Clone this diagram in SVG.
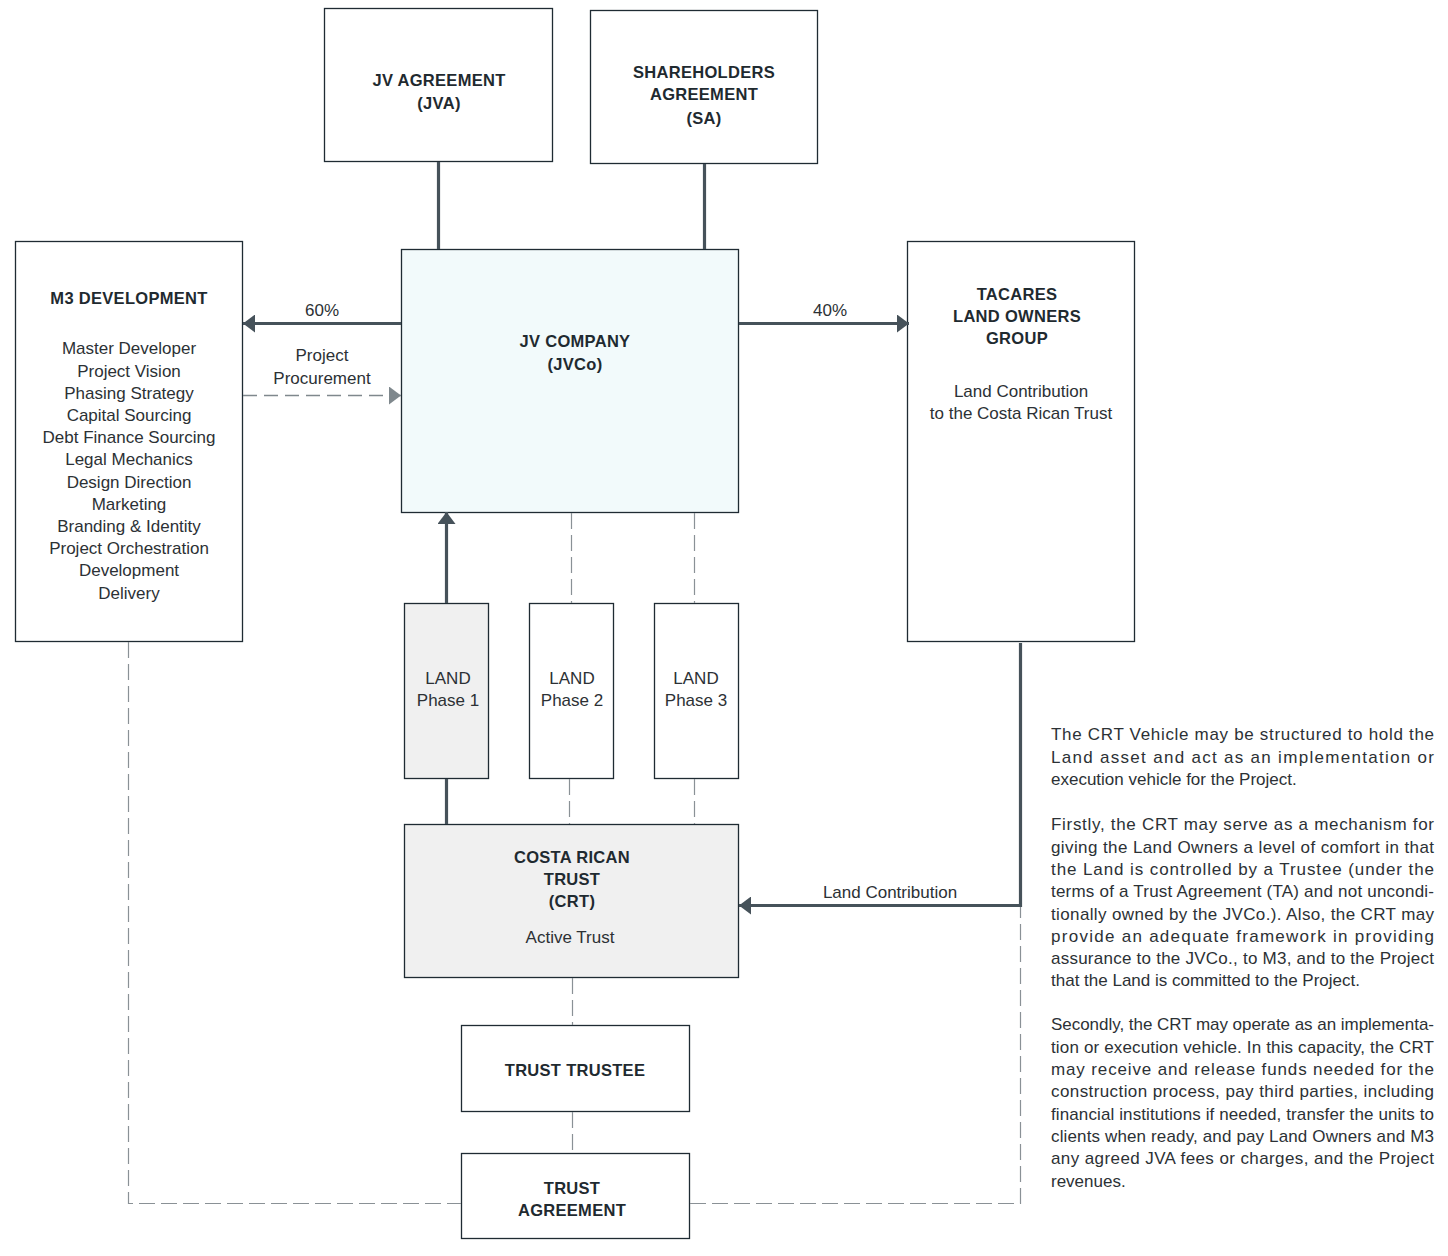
<svg xmlns="http://www.w3.org/2000/svg" width="1448" height="1256" viewBox="0 0 1448 1256">
<defs>
<style>
.box{fill:#ffffff;stroke:#1f2b33;stroke-width:1.3}
.grey{fill:#f0f0f0}
.cyan{fill:#f2fafb}
.t{font-family:"Liberation Sans",Arial,sans-serif;font-size:17px;fill:#2c3135;text-anchor:middle}
.b{font-family:"Liberation Sans",Arial,sans-serif;font-size:16.5px;font-weight:bold;fill:#1f2a30;text-anchor:middle;letter-spacing:0.3px}
.p{font-family:"Liberation Sans",Arial,sans-serif;font-size:17px;fill:#2c3135}
.thick{fill:none;stroke:#46525a;stroke-width:3.2}
.dash{fill:none;stroke:#8a9196;stroke-width:1.2;stroke-dasharray:16 6}
.dashArrow{fill:none;stroke:#7f888d;stroke-width:1.3;stroke-dasharray:14 7}
</style>
<marker id="ah" markerUnits="userSpaceOnUse" markerWidth="14" markerHeight="18" refX="12" refY="9" orient="auto">
<path d="M0,0 L12,9 L0,18 Z" fill="#46525a"/>
</marker>
<marker id="ahl" markerUnits="userSpaceOnUse" markerWidth="14" markerHeight="18" refX="12" refY="9" orient="auto">
<path d="M0,0 L12,9 L0,18 Z" fill="#7f888d"/>
</marker>
</defs>
<rect width="1448" height="1256" fill="#ffffff"/>

<g id="jva">
<rect class="box" x="324.5" y="8.5" width="228" height="153"/>
<text class="b" x="439" y="86">JV AGREEMENT</text>
<text class="b" x="439" y="109">(JVA)</text>
</g>
<g id="sa">
<rect class="box" x="590.5" y="10.5" width="227" height="153"/>
<text class="b" x="704" y="78">SHAREHOLDERS</text>
<text class="b" x="704" y="100">AGREEMENT</text>
<text class="b" x="704" y="124">(SA)</text>
</g>
<g id="jvco">
<rect class="box cyan" x="401.5" y="249.5" width="337" height="263"/>
<text class="b" x="575" y="347">JV COMPANY</text>
<text class="b" x="575" y="370">(JVCo)</text>
</g>
<g id="m3">
<rect class="box" x="15.5" y="241.5" width="227" height="400"/>
<text class="b" x="129" y="304">M3 DEVELOPMENT</text>
<text class="t" x="129" y="354.3">Master Developer<tspan x="129" dy="22.2">Project Vision</tspan><tspan x="129" dy="22.2">Phasing Strategy</tspan><tspan x="129" dy="22.2">Capital Sourcing</tspan><tspan x="129" dy="22.2">Debt Finance Sourcing</tspan><tspan x="129" dy="22.2">Legal Mechanics</tspan><tspan x="129" dy="22.2">Design Direction</tspan><tspan x="129" dy="22.2">Marketing</tspan><tspan x="129" dy="22.2">Branding &amp; Identity</tspan><tspan x="129" dy="22.2">Project Orchestration</tspan><tspan x="129" dy="22.2">Development</tspan><tspan x="129" dy="22.2">Delivery</tspan></text>
</g>
<g id="tacares">
<rect class="box" x="907.5" y="241.5" width="227" height="400"/>
<text class="b" x="1017" y="300">TACARES</text>
<text class="b" x="1017" y="322">LAND OWNERS</text>
<text class="b" x="1017" y="344">GROUP</text>
<text class="t" x="1021" y="397">Land Contribution</text>
<text class="t" x="1021" y="419">to the Costa Rican Trust</text>
</g>
<g id="land1">
<rect class="box grey" x="404.5" y="603.5" width="84" height="175"/>
<text class="t" x="448" y="684">LAND</text>
<text class="t" x="448" y="706">Phase 1</text>
</g>
<g id="land2">
<rect class="box" x="529.5" y="603.5" width="84" height="175"/>
<text class="t" x="572" y="684">LAND</text>
<text class="t" x="572" y="706">Phase 2</text>
</g>
<g id="land3">
<rect class="box" x="654.5" y="603.5" width="84" height="175"/>
<text class="t" x="696" y="684">LAND</text>
<text class="t" x="696" y="706">Phase 3</text>
</g>
<g id="crt">
<rect class="box grey" x="404.5" y="824.5" width="334" height="153"/>
<text class="b" x="572" y="863">COSTA RICAN</text>
<text class="b" x="572" y="885">TRUST</text>
<text class="b" x="572" y="907">(CRT)</text>
<text class="t" x="570" y="943">Active Trust</text>
</g>
<g id="trustee">
<rect class="box" x="461.5" y="1025.5" width="228" height="86"/>
<text class="b" x="575" y="1076">TRUST TRUSTEE</text>
</g>
<g id="agreement">
<rect class="box" x="461.5" y="1153.5" width="228" height="85"/>
<text class="b" x="572" y="1194">TRUST</text>
<text class="b" x="572" y="1216">AGREEMENT</text>
</g>

<g id="connectors">
<line class="thick" x1="438.5" y1="162" x2="438.5" y2="249"/>
<line class="thick" x1="704.5" y1="164" x2="704.5" y2="249"/>
<line class="thick" x1="401" y1="323.5" x2="243" y2="323.5" marker-end="url(#ah)"/>
<line class="thick" x1="739" y1="323.5" x2="909" y2="323.5" marker-end="url(#ah)"/>
<line class="dashArrow" x1="243" y1="395.5" x2="401" y2="395.5" marker-end="url(#ahl)"/>
<line class="thick" x1="446.5" y1="603" x2="446.5" y2="512" marker-end="url(#ah)"/>
<line class="thick" x1="446.5" y1="779" x2="446.5" y2="824"/>
<line class="dash" x1="571.5" y1="513" x2="571.5" y2="603"/>
<line class="dash" x1="569.5" y1="779" x2="569.5" y2="824"/>
<line class="dash" x1="694.5" y1="513" x2="694.5" y2="603"/>
<line class="dash" x1="694.5" y1="779" x2="694.5" y2="824"/>
<line class="dash" x1="572.5" y1="978" x2="572.5" y2="1025"/>
<line class="dash" x1="572.5" y1="1112" x2="572.5" y2="1153"/>
<polyline class="thick" points="1020.5,643 1020.5,905.5 739,905.5" marker-end="url(#ah)"/>
<polyline class="dash" points="128.5,642 128.5,1203.5 461,1203.5"/>
<polyline class="dash" points="690,1203.5 1020.5,1203.5 1020.5,907"/>
<text class="t" x="322" y="316">60%</text>
<text class="t" x="830" y="316">40%</text>
<text class="t" x="322" y="361">Project</text>
<text class="t" x="322" y="384">Procurement</text>
<text class="t" x="890" y="898">Land Contribution</text>
</g>

<g id="notes">
<text class="p" x="1051" y="740" textLength="383" lengthAdjust="spacing">The CRT Vehicle may be structured to hold the</text>
<text class="p" x="1051" y="762.5" textLength="383" lengthAdjust="spacing">Land asset and act as an implementation or</text>
<text class="p" x="1051" y="785">execution vehicle for the Project.</text>
<text class="p" x="1051" y="830" textLength="383" lengthAdjust="spacing">Firstly, the CRT may serve as a mechanism for</text>
<text class="p" x="1051" y="852.5" textLength="383" lengthAdjust="spacing">giving the Land Owners a level of comfort in that</text>
<text class="p" x="1051" y="875" textLength="383" lengthAdjust="spacing">the Land is controlled by a Trustee (under the</text>
<text class="p" x="1051" y="897" textLength="383" lengthAdjust="spacing">terms of a Trust Agreement (TA) and not uncondi-</text>
<text class="p" x="1051" y="919.5" textLength="383" lengthAdjust="spacing">tionally owned by the JVCo.).  Also, the CRT may</text>
<text class="p" x="1051" y="941.5" textLength="383" lengthAdjust="spacing">provide an adequate framework in providing</text>
<text class="p" x="1051" y="964" textLength="383" lengthAdjust="spacing">assurance to the JVCo., to M3, and to the Project</text>
<text class="p" x="1051" y="986">that the Land is committed to the Project.</text>
<text class="p" x="1051" y="1030" textLength="383" lengthAdjust="spacing">Secondly, the CRT may operate as an implementa-</text>
<text class="p" x="1051" y="1052.5" textLength="383" lengthAdjust="spacing">tion or execution vehicle.  In this capacity, the CRT</text>
<text class="p" x="1051" y="1074.5" textLength="383" lengthAdjust="spacing">may receive and release funds needed for the</text>
<text class="p" x="1051" y="1097" textLength="383" lengthAdjust="spacing">construction process, pay third parties, including</text>
<text class="p" x="1051" y="1119.5" textLength="383" lengthAdjust="spacing">financial institutions if needed, transfer the units to</text>
<text class="p" x="1051" y="1141.5" textLength="383" lengthAdjust="spacing">clients when ready, and pay Land Owners and M3</text>
<text class="p" x="1051" y="1164" textLength="383" lengthAdjust="spacing">any agreed JVA fees or charges, and the Project</text>
<text class="p" x="1051" y="1186.5">revenues.</text>
</g>
</svg>
